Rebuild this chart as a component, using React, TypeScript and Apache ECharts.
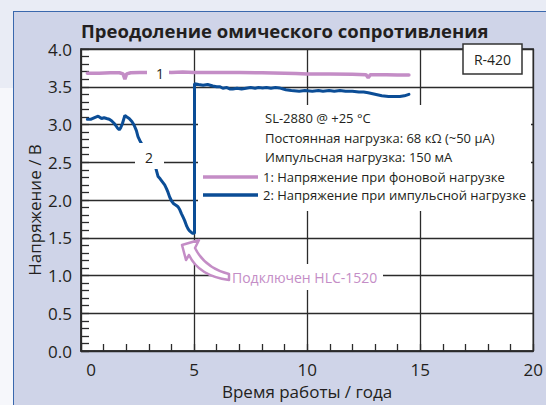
import React, { useEffect, useRef } from "react";
import * as echarts from "echarts";

const titleText = "Преодоление омического сопротивления";
const xAxisName = "Время работы / года";
const yAxisName = "Напряжение / В";
const modelLabel = "R-420";
const infoLines = ["SL-2880 @ +25 °C", "Постоянная нагрузка: 68 кΩ (~50 µA)", "Импульсная нагрузка: 150 мА"];
const series1Name = "1: Напряжение при фоновой нагрузке";
const series2Name = "2: Напряжение при импульсной нагрузке";
const annotationText = "Подключен HLC-1520";

const pinkYears = [0.28, 0.8, 1.3, 1.7, 1.86, 1.94, 2.02, 2.2, 2.6, 3.0, 3.5, 4.0, 4.5, 5.0, 6.0, 7.0, 8.0, 9.0, 9.5, 10.0, 11.0, 12.0, 12.6, 12.7, 12.8, 13.5, 14.0, 14.5];
const pinkVolts = [3.68, 3.68, 3.685, 3.685, 3.67, 3.6, 3.67, 3.685, 3.69, 3.69, 3.695, 3.69, 3.695, 3.69, 3.69, 3.69, 3.685, 3.68, 3.675, 3.67, 3.67, 3.665, 3.66, 3.62, 3.66, 3.66, 3.655, 3.655];

const blueYears = [0.28, 0.45, 0.6, 0.76, 0.91, 1.02, 1.13, 1.25, 1.35, 1.45, 1.53, 1.62, 1.69, 1.76, 1.83, 1.94, 2.03, 2.13, 2.25, 2.35, 2.45, 2.52, 2.63, 3.31, 3.41, 3.5, 3.6, 3.7, 3.78, 3.85, 3.92, 4.0, 4.1, 4.2, 4.29, 4.37, 4.44, 4.52, 4.58, 4.68, 4.75, 4.8, 4.88, 4.92, 5.02, 5.02, 5.2, 5.4, 5.6, 5.83, 6.0, 6.15, 6.27, 6.45, 6.6, 6.71, 6.9, 7.1, 7.3, 7.5, 7.7, 7.85, 8.03, 8.2, 8.4, 8.6, 8.77, 9.06, 9.3, 9.65, 9.9, 10.23, 10.5, 10.7, 10.97, 11.2, 11.45, 11.7, 12.0, 12.29, 12.5, 12.7, 13.0, 13.3, 13.6, 13.9, 14.1, 14.3, 14.5];
const blueVolts = [3.07, 3.07, 3.09, 3.11, 3.08, 3.09, 3.08, 3.07, 3.05, 3.02, 2.99, 2.95, 2.93, 2.96, 3.01, 3.12, 3.1, 3.08, 3.04, 2.99, 2.92, 2.84, 2.77, 2.42, 2.31, 2.28, 2.24, 2.2, 2.15, 2.1, 2.04, 1.99, 1.95, 1.93, 1.91, 1.87, 1.82, 1.77, 1.73, 1.65, 1.61, 1.59, 1.57, 1.56, 1.56, 3.54, 3.53, 3.52, 3.53, 3.51, 3.5, 3.5, 3.48, 3.49, 3.47, 3.47, 3.48, 3.47, 3.48, 3.49, 3.48, 3.49, 3.485, 3.49, 3.48, 3.49, 3.485, 3.46, 3.45, 3.44, 3.45, 3.44, 3.45, 3.44, 3.45, 3.44, 3.45, 3.44, 3.44, 3.43, 3.43, 3.42, 3.4, 3.38, 3.37, 3.37, 3.37, 3.38, 3.4];

const PINK = "#c48dc6";
const BLUE = "#0b4d96";
const TEXT = "#231f20";
const GRIDC = "#2b2b2b";
const FONT = "'Open Sans', 'Noto Sans', sans-serif";

const arrowD = "M 182 245 L 199 240 L 195 248 Q 205 268 229 274 L 229 280 Q 199 276 189 255 L 186 260 Z";
let registered = false;
function ensureShape() {
  if (registered) return;
  echarts.graphic.registerShape("annoArrow", echarts.graphic.extendPath(arrowD, {}));
  registered = true;
}

export default function App() {
  const ref = useRef<HTMLDivElement>(null);
  useEffect(() => {
    if (!ref.current) return;
    ensureShape();
    const chart = echarts.init(ref.current, null, { renderer: "svg" });
    const pinkData = pinkYears.map((x, i) => [x, pinkVolts[i]]);
    const blueData = blueYears.map((x, i) => [x, blueVolts[i]]);
    const option: any = {
      animation: false,
      backgroundColor: "transparent",
      textStyle: { fontFamily: FONT },
      title: {
        text: titleText,
        left: 81,
        top: 21,
        padding: 0,
        textStyle: { fontFamily: FONT, fontWeight: "bold", fontSize: 18.5, color: TEXT },
      },
      grid: {
        left: 81, right: 11, top: 49, bottom: 54,
        show: true, backgroundColor: "#ffffff", borderColor: GRIDC, borderWidth: 1.5,
      },
      legend: {
        orient: "vertical",
        left: 203,
        top: 170,
        padding: 0,
        itemGap: 4,
        itemWidth: 55,
        itemHeight: 3.5,
        icon: "rect",
        z: 70,
        selectedMode: false,
        textStyle: { fontFamily: FONT, fontSize: 13, color: TEXT, lineHeight: 14 },
        data: [series1Name, series2Name],
      },
      xAxis: {
        type: "value",
        min: 0, max: 20, interval: 5,
        name: xAxisName,
        nameLocation: "middle",
        nameGap: 32,
        nameMoveOverlap: false,
        nameTextStyle: { fontFamily: FONT, fontSize: 17, color: TEXT },
        axisLine: { show: true, lineStyle: { color: GRIDC, width: 1.5 } },
        axisTick: { show: true, inside: true, length: 7, lineStyle: { color: GRIDC, width: 1.3 } },
        minorTick: { show: true, splitNumber: 5, length: 7, lineStyle: { color: GRIDC, width: 1.3 } },
        splitLine: { show: true, lineStyle: { color: GRIDC, width: 1.3 } },
        axisLabel: {
          margin: 10,
          showMinLabel: true, showMaxLabel: true, hideOverlap: false,
          fontFamily: FONT, fontSize: 17, color: TEXT,
          formatter: (v: number) => (v === 0 ? "{z|0}" : String(v)),
          rich: { z: { fontFamily: FONT, fontSize: 17, color: TEXT, padding: [0, 0, 0, 20] } },
        },
      },
      yAxis: {
        type: "value",
        min: 0, max: 4, interval: 0.5,
        name: yAxisName,
        nameLocation: "middle",
        nameGap: 38,
        nameMoveOverlap: false,
        nameTextStyle: { fontFamily: FONT, fontSize: 17, color: TEXT, padding: [0, 20, 0, 0] },
        axisLine: { show: true, lineStyle: { color: GRIDC, width: 1.5 } },
        axisTick: { show: true, inside: true, length: 8, lineStyle: { color: GRIDC, width: 1.3 } },
        minorTick: { show: true, splitNumber: 5, length: 8, lineStyle: { color: GRIDC, width: 1.3 } },
        splitLine: { show: true, lineStyle: { color: GRIDC, width: 1.3 } },
        axisLabel: {
          margin: 9,
          showMinLabel: true, showMaxLabel: true, hideOverlap: false,
          fontFamily: FONT, fontSize: 17, color: TEXT,
          formatter: (v: number) => v.toFixed(1),
        },
      },
      series: [
        {
          name: series1Name,
          type: "line",
          data: pinkData,
          showSymbol: false,
          color: PINK,
          itemStyle: { color: PINK },
          lineStyle: { color: PINK, width: 3.5, cap: "round" },
          z: 3,
        },
        {
          name: series2Name,
          type: "line",
          data: blueData,
          showSymbol: false,
          color: BLUE,
          itemStyle: { color: BLUE },
          lineStyle: { color: BLUE, width: 3, cap: "round" },
          z: 4,
        },
      ],
      graphic: [
        { type: "rect", z: 50, shape: { x: 198, y: 105, width: 333, height: 106 }, style: { fill: "#ffffff" } },
        ...infoLines.map((t, i) => ({
          type: "text", z: 60, x: 265, y: [118, 138, 157][i],
          style: { text: t, fill: TEXT, font: `13px ${FONT}`, textAlign: "left", textVerticalAlign: "middle" },
        })),
        { type: "rect", z: 50, shape: { x: 147, y: 62, width: 22, height: 22 }, style: { fill: "#ffffff" } },
        { type: "text", z: 60, x: 160, y: 73, style: { text: "1", fill: TEXT, font: `14px ${FONT}`, textAlign: "center", textVerticalAlign: "middle" } },
        { type: "rect", z: 50, shape: { x: 135, y: 143, width: 29, height: 26 }, style: { fill: "#ffffff" } },
        { type: "text", z: 60, x: 149, y: 157, style: { text: "2", fill: TEXT, font: `14px ${FONT}`, textAlign: "center", textVerticalAlign: "middle" } },
        { type: "rect", z: 50, shape: { x: 463, y: 44, width: 59, height: 30 }, style: { fill: "#ffffff", stroke: "#333333", lineWidth: 1.5 } },
        { type: "text", z: 60, x: 492.5, y: 59.5, style: { text: modelLabel, fill: TEXT, font: `14px ${FONT}`, textAlign: "center", textVerticalAlign: "middle" } },
        { type: "rect", z: 50, shape: { x: 228, y: 264, width: 155, height: 26 }, style: { fill: "#ffffff" } },
        { type: "text", z: 60, x: 232, y: 277, style: { text: annotationText, fill: PINK, font: `14px ${FONT}`, textAlign: "left", textVerticalAlign: "middle" } },
        { type: "annoArrow", z: 60, x: 0, y: 0, style: { fill: "#ffffff", stroke: PINK, lineWidth: 2.5, lineJoin: "round" } },
      ],
    };
    chart.setOption(option);
    return () => chart.dispose();
  }, []);
  return (
    <div style={{ position: "fixed", left: 0, top: 0, width: 546, height: 405, background: "#e9ecf5", overflow: "hidden" }}>
      <div style={{ position: "absolute", left: 0, top: 88, width: 13, height: 317, background: "#f6f7fb" }} />
      <div style={{ position: "absolute", left: 13, top: 11, width: 533, height: 394, background: "#cfd4e8", borderLeft: "1.5px solid #3a68ad", borderTop: "1.5px solid #3a68ad", boxSizing: "border-box" }} />
      <div ref={ref} style={{ position: "absolute", left: 0, top: 0, width: 546, height: 405 }} />
    </div>
  );
}
